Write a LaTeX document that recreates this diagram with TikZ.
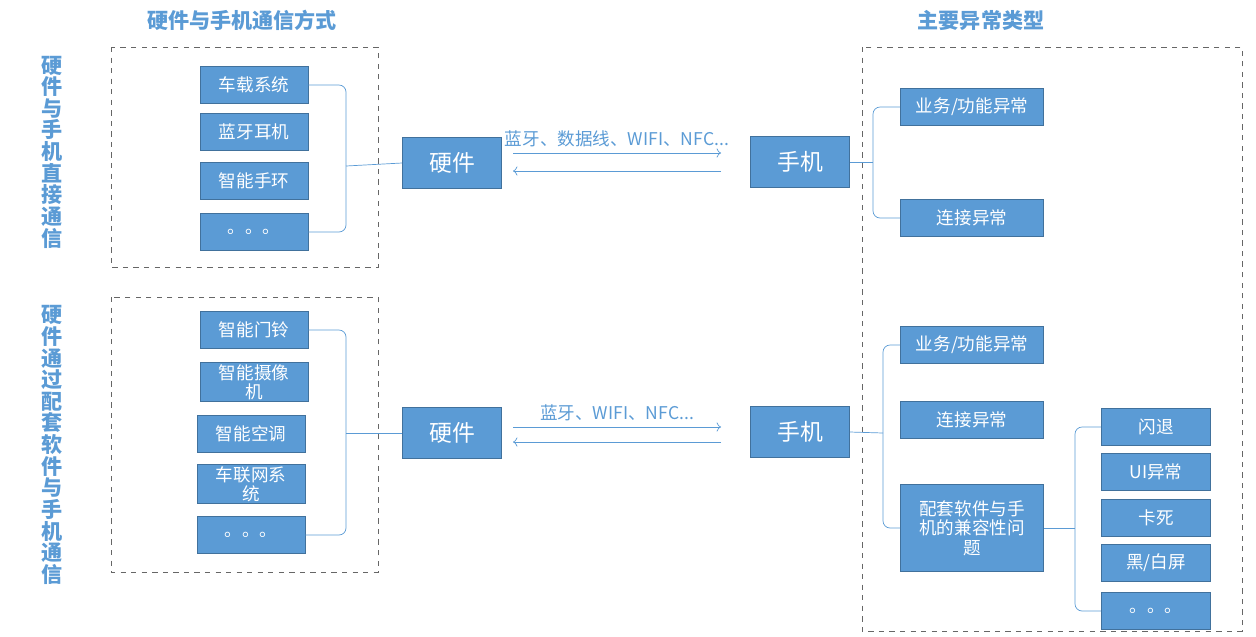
\documentclass[tikz,border=0pt]{standalone}
\usepackage{fontspec}
\setmainfont{Noto Sans CJK SC}
\usetikzlibrary{arrows.meta}
\definecolor{bfill}{HTML}{5B9BD5}
\definecolor{bline}{HTML}{41719C}
\tikzstyle{bx}=[draw=bline,fill=bfill,text=white,inner sep=1pt,align=center,font=\fontsize{10}{11}\selectfont]
\tikzstyle{sb}=[bx,minimum width=2.16cm,minimum height=0.75cm]
\tikzstyle{eb}=[bx,minimum width=2.86cm,minimum height=0.75cm]
\tikzstyle{fb}=[bx,minimum width=2.18cm,minimum height=0.75cm]
\tikzstyle{mb}=[bx,minimum width=1.98cm,minimum height=1.02cm,font=\fontsize{13}{14}\selectfont]
\tikzstyle{grp}=[draw=black!60,dashed]
\tikzstyle{ln}=[draw=bfill]
\tikzstyle{ttl}=[text=bfill,font=\fontsize{12}{14}\selectfont\bfseries]
\tikzstyle{side}=[text=bfill,font=\fontsize{12}{14}\selectfont\bfseries,align=center]

\begin{document}
\begin{tikzpicture}[x=0.02cm,y=-0.02cm]
\useasboundingbox (0,0) rectangle (1256,636);
% titles
\node[ttl] (t1) at (242,20) {硬件与手机通信方式};
\node[ttl] (t2) at (981,20) {主要异常类型};
\node[side,text width=0.5cm,font=\fontsize{12}{12.3}\selectfont\bfseries] (s1) at (52,152) {硬\\件\\与\\手\\机\\直\\接\\通\\信};
\node[side,text width=0.5cm,font=\fontsize{12}{12.3}\selectfont\bfseries] (s2) at (52,445) {硬\\件\\通\\过\\配\\套\\软\\件\\与\\手\\机\\通\\信};
% dashed groups
\draw[grp] (111,47) rectangle (378,267);
\draw[grp] (111,297) rectangle (378,572);
\draw[grp] (862,47) rectangle (1242,631);
% upper row
\node[sb] (a1) at (254,85) {车载系统};
\node[sb] (a2) at (254,132) {蓝牙耳机};
\node[sb] (a3) at (254,181) {智能手环};
\node[sb] (a4) at (254,232) {。。。};
\node[mb] (hw1) at (452,163) {硬件};
\node[mb] (ph1) at (800,162) {手机};
\node[eb] (e1) at (972,107) {业务/功能异常};
\node[eb] (e2) at (972,218) {连接异常};
\coordinate (b1) at (346,166);
\coordinate (r1) at (873,162);
\draw[ln,rounded corners=4pt] (a1.east) -| (b1) |- (a4.east);
\draw[ln] (b1) -- (hw1.west);
\coordinate (u1) at (513,153); \coordinate (u2) at (721,153);
\coordinate (u3) at (721,171); \coordinate (u4) at (513,171);
\draw[ln,-{To}] (u1) -- node[above,text=bfill,font=\fontsize{10}{11}\selectfont] {蓝牙、数据线、WIFI、NFC...} (u2);
\draw[ln,-{To}] (u3) -- (u4);
\draw[ln,rounded corners=4pt] (e1.west) -| (r1) |- (e2.west);
\draw[ln] (ph1.east) -- (r1);
% lower row
\node[sb] (c1) at (254,330) {智能门铃};
\node[sb,text width=2cm] (c2) at (254,382) {智能摄像\\机};
\node[sb] (c3) at (251,434) {智能空调};
\node[sb,text width=2cm] (c4) at (251,484) {车联网系\\统};
\node[sb] (c5) at (251,535) {。。。};
\node[mb] (hw2) at (452,433) {硬件};
\node[mb] (ph2) at (800,432) {手机};
\node[eb] (e3) at (972,345) {业务/功能异常};
\node[eb] (e4) at (972,420) {连接异常};
\node[eb,minimum height=1.74cm,text width=2.6cm] (e5) at (972,528) {配套软件与手\\机的兼容性问\\题};
\node[fb] (f1) at (1156,427) {闪退};
\node[fb] (f2) at (1156,472) {UI异常};
\node[fb] (f3) at (1156,518) {卡死};
\node[fb] (f4) at (1156,563) {黑/白屏};
\node[fb] (f5) at (1156,611) {。。。};
\coordinate (b2) at (346,433);
\coordinate (r2) at (883,433);
\coordinate (r3) at (1075,528);
\draw[ln,rounded corners=4pt] (c1.east) -| (b2) |- (c5.east);
\draw[ln] (b2) -- (hw2.west);
\coordinate (v1) at (513,427); \coordinate (v2) at (721,427);
\coordinate (v3) at (721,442); \coordinate (v4) at (513,442);
\draw[ln,-{To}] (v1) -- node[above,text=bfill,font=\fontsize{10}{11}\selectfont] {蓝牙、WIFI、NFC...} (v2);
\draw[ln,-{To}] (v3) -- (v4);
\draw[ln,rounded corners=4pt] (e3.west) -| (r2) |- (e5.west);
\draw[ln] (ph2.east) -- (r2);
\draw[ln,rounded corners=4pt] (f1.west) -| (r3) |- (f5.west);
\draw[ln] (e5.east) -- (r3);
\end{tikzpicture}
\end{document}
